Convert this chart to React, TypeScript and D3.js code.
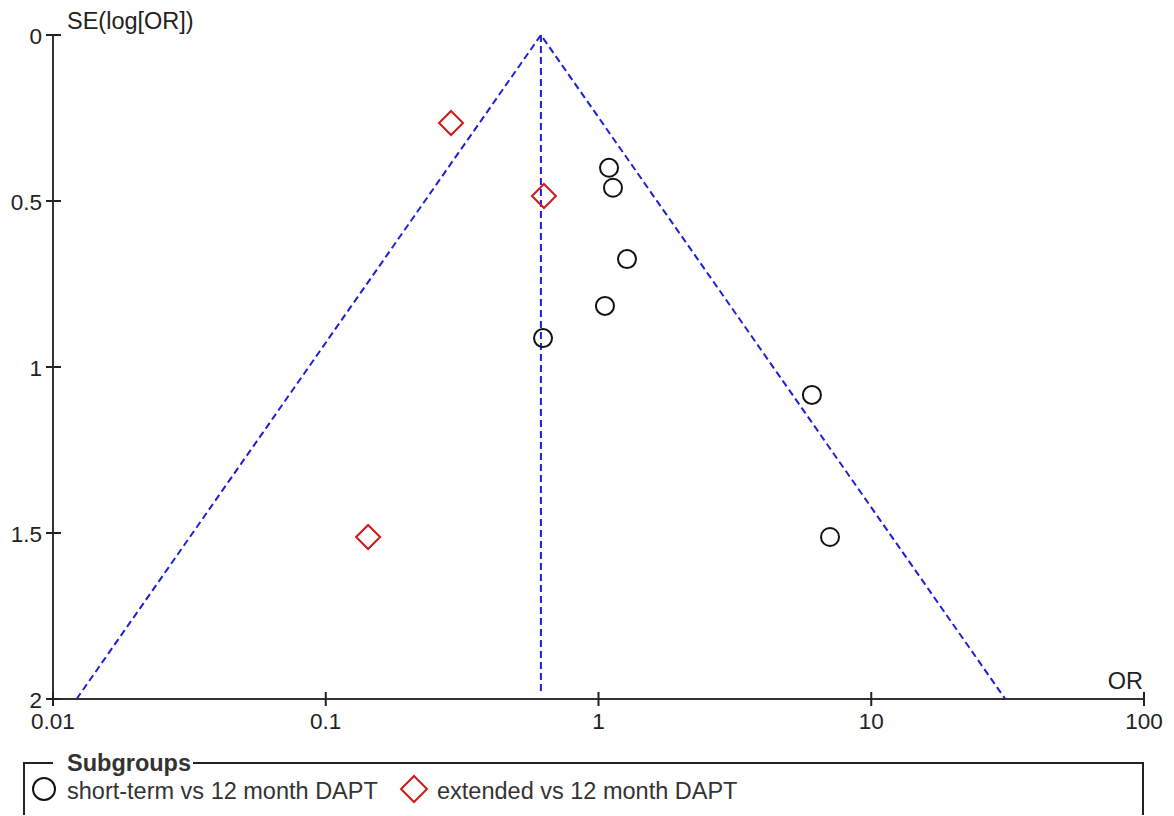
import React from "react";
import * as d3 from "d3";

// funnel plot data
const shortTermOR = [1.093, 1.13, 1.272, 1.056, 0.626, 6.06, 7.06];
const shortTermSE = [0.4, 0.46, 0.675, 0.816, 0.913, 1.084, 1.512];
const extendedOR = [0.288, 0.631, 0.143];
const extendedSE = [0.265, 0.485, 1.512];
const pooledOR = 0.615;
const xTicks = [0.01, 0.1, 1, 10, 100];
const xTickLabels = ["0.01", "0.1", "1", "10", "100"];
const yTicks = [0, 0.5, 1, 1.5, 2];
const yTickLabels = ["0", "0.5", "1", "1.5", "2"];
const seMax = 2;

export default function App() {
  const width = 1174;
  const height = 816;
  const font = "'Liberation Sans', Arial, sans-serif";

  const x = d3.scaleLog().domain([0.01, 100]).range([53, 1144]);
  const y = d3.scaleLinear().domain([0, 2]).range([35, 699]);

  const lo = Math.exp(Math.log(pooledOR) - 1.96 * seMax);
  const hi = Math.exp(Math.log(pooledOR) + 1.96 * seMax);
  const line = d3.line<[number, number]>()
    .x(d => x(d[0]))
    .y(d => y(d[1]));

  const diamond = (cx: number, cy: number, r: number) =>
    `M${cx},${cy - r}L${cx + r},${cy}L${cx},${cy + r}L${cx - r},${cy}Z`;

  const blue = "#1f1fd6";
  const dash = "7,4";

  return (
    <svg width={width} height={height} style={{ position: "absolute", left: 0, top: 0, background: "#fff" }}
      fontFamily={font}>
      {/* funnel */}
      <path d={line([[lo, seMax], [pooledOR, 0], [hi, seMax]]) || ""} fill="none"
        stroke={blue} strokeWidth={2} strokeDasharray={dash} />
      <path d={line([[pooledOR, 0], [pooledOR, seMax - 0.02]]) || ""} fill="none"
        stroke={blue} strokeWidth={2} strokeDasharray={dash} />

      {/* axes */}
      <line x1={x(0.01)} x2={x(100)} y1={y(2)} y2={y(2)} stroke="#333" strokeWidth={2} />
      <line x1={x(0.01)} x2={x(0.01)} y1={y(0)} y2={y(2)} stroke="#333" strokeWidth={2} />
      {xTicks.map((t, i) => (
        <g key={"xt" + i}>
          <line x1={x(t)} x2={x(t)} y1={y(2) - 7} y2={y(2) + 7} stroke="#222" strokeWidth={2} />
          <text x={x(t)} y={y(2) + 30} textAnchor="middle" fontSize={22.5} fill="#222">{xTickLabels[i]}</text>
        </g>
      ))}
      {yTicks.map((t, i) => (
        <g key={"yt" + i}>
          <line x1={x(0.01) - 7} x2={x(0.01) + 8} y1={y(t)} y2={y(t)} stroke="#222" strokeWidth={2} />
          <text x={42} y={y(t) + 9} textAnchor="end" fontSize={22.5} fill="#222">{yTickLabels[i]}</text>
        </g>
      ))}
      <text x={67} y={29} fontSize={23.5} fill="#222">SE(log[OR])</text>
      <text x={1143} y={689} textAnchor="end" fontSize={23.5} fill="#222">OR</text>

      {/* points */}
      {shortTermOR.map((v, i) => (
        <circle key={"c" + i} cx={x(v)} cy={y(shortTermSE[i])} r={9} fill="none" stroke="#111" strokeWidth={2} />
      ))}
      {extendedOR.map((v, i) => (
        <path key={"d" + i} d={diamond(x(v), y(extendedSE[i]), 12)} fill="none" stroke="#cc1a1a" strokeWidth={2} />
      ))}

      {/* legend */}
      <path d="M193,763 H1143 V815 M24,815 V763 H53" fill="none" stroke="#222" strokeWidth={2} />
      <text x={67} y={771} fontSize={23.5} fontWeight="bold" fill="#333">Subgroups</text>
      <circle cx={44} cy={789} r={11} fill="none" stroke="#111" strokeWidth={2} />
      <text x={67} y={799} fontSize={23.5} fill="#333">short-term vs 12 month DAPT</text>
      <path d={diamond(414, 789, 13)} fill="none" stroke="#cc1a1a" strokeWidth={2} />
      <text x={437} y={799} fontSize={23.5} fill="#333">extended vs 12 month DAPT</text>
    </svg>
  );
}
